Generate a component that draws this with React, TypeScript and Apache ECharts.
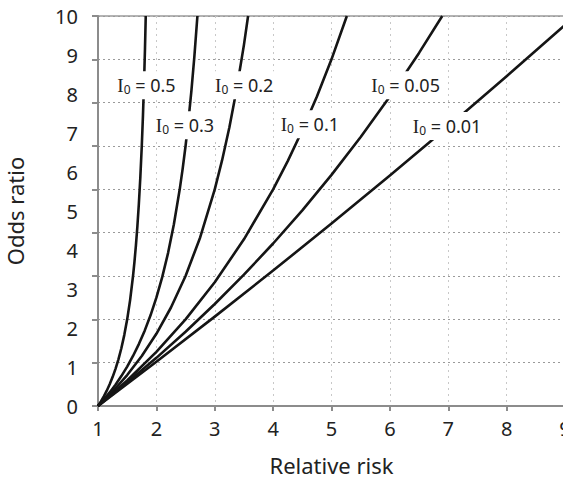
import React, { useEffect, useRef } from "react";
import * as echarts from "echarts";

// Relative risk (x) and odds ratio (y) points
const rr05 = [1, 1.05, 1.1, 1.15, 1.2, 1.25, 1.3, 1.35, 1.4, 1.45, 1.5, 1.55, 1.6, 1.625, 1.65, 1.675, 1.7, 1.725, 1.75, 1.77, 1.79, 1.805, 1.818];
const or05 = [1, 1.105, 1.222, 1.353, 1.5, 1.667, 1.857, 2.077, 2.333, 2.636, 3, 3.444, 4, 4.333, 4.714, 5.154, 5.667, 6.273, 7, 7.696, 8.524, 9.256, 10];
const rr03 = [1, 1.1, 1.2, 1.3, 1.4, 1.5, 1.6, 1.7, 1.8, 1.9, 2.0, 2.1, 2.2, 2.3, 2.4, 2.45, 2.5, 2.55, 2.6, 2.65, 2.703];
const or03 = [1, 1.149, 1.313, 1.492, 1.69, 1.909, 2.154, 2.429, 2.739, 3.093, 3.5, 3.973, 4.529, 5.194, 6.0, 6.472, 7.0, 7.596, 8.273, 9.049, 10];
const rr02 = [1, 1.25, 1.5, 1.75, 2, 2.25, 2.5, 2.75, 3, 3.125, 3.25, 3.375, 3.5, 3.571];
const or02 = [1, 1.333, 1.714, 2.154, 2.667, 3.273, 4, 4.889, 6, 6.667, 7.429, 8.308, 9.333, 10];
const rr01 = [1, 1.5, 2, 2.5, 3, 3.5, 4, 4.25, 4.5, 4.75, 5, 5.263];
const or01 = [1, 1.588, 2.25, 3, 3.857, 4.846, 6, 6.652, 7.364, 8.143, 9, 10];
const rr005 = [1, 1.5, 2, 2.5, 3, 3.5, 4, 4.5, 5, 5.5, 6, 6.5, 6.897];
const or005 = [1, 1.541, 2.111, 2.714, 3.353, 4.03, 4.75, 5.516, 6.333, 7.207, 8.143, 9.148, 10];
const rr001 = [1, 2, 3, 4, 5, 6, 7, 8, 9];
const or001 = [1, 2.02, 3.062, 4.125, 5.211, 6.319, 7.452, 8.609, 9.791];

const curveX = [rr05, rr03, rr02, rr01, rr005, rr001];
const curveY = [or05, or03, or02, or01, or005, or001];

// Curve labels (I0 values) and where they sit
const labelNames = ["0.5", "0.3", "0.2", "0.1", "0.05", "0.01"];
const labelX = [1.83, 2.49, 3.505, 4.63, 6.27, 6.98];
const labelY = [8.4, 7.48, 8.4, 7.5, 8.4, 7.46];

// Axis ranges
const xMin = 1;
const xMax = 9;
const yLabelMin = 0;
const yLabelMax = 10;
const yDataMin = 1;
const yDataMax = 10;

const FONT = "Noto Sans";
const AXIS_COLOR = "#8c8c8c";
const TEXT_COLOR = "#222";

export default function App() {
  const ref = useRef<HTMLDivElement>(null);

  useEffect(() => {
    if (!ref.current) return;
    const chart = echarts.init(ref.current, undefined, { renderer: "svg" });

    const lineSeries = curveX.map((xs, i) => ({
      type: "line",
      xAxisIndex: 0,
      yAxisIndex: 1,
      data: xs.map((x, j) => [x, curveY[i][j]]),
      showSymbol: false,
      symbol: "none",
      smooth: false,
      silent: true,
      lineStyle: { color: "#151515", width: 2.6, join: "round" },
      z: 2,
    }));

    const labelSeries = {
      type: "scatter",
      xAxisIndex: 0,
      yAxisIndex: 1,
      symbol: "rect",
      symbolSize: (_v: any, p: any) => [p.name.length * 9 + 40, 28],
      itemStyle: { color: "#ffffff", opacity: 1 },
      silent: true,
      z: 5,
      data: labelNames.map((n, i) => ({ value: [labelX[i], labelY[i]], name: n })),
      label: {
        show: true,
        position: "inside",
        formatter: (p: any) => `{i|I}{s|0}{t| = ${p.name}}`,
        rich: {
          i: { fontFamily: "Liberation Serif", fontSize: 19, color: TEXT_COLOR },
          s: { fontFamily: FONT, fontSize: 12, color: TEXT_COLOR, padding: [9, 0, 0, 0] },
          t: { fontFamily: FONT, fontSize: 18, color: TEXT_COLOR },
        },
      },
    };

    chart.setOption({
      animation: false,
      backgroundColor: "#ffffff",
      grid: {
        left: 98,
        width: 467,
        top: 16,
        bottom: 79,
        containLabel: false,
        outerBoundsMode: "none",
        show: true,
        borderColor: "#9a9a9a",
        borderWidth: 1.5,
        backgroundColor: "transparent",
      },
      xAxis: {
        type: "value",
        min: xMin,
        max: xMax,
        interval: 1,
        axisLine: { show: true, lineStyle: { color: AXIS_COLOR, width: 2 } },
        axisTick: { show: true, length: 5, lineStyle: { color: AXIS_COLOR, width: 2 } },
        axisLabel: { color: TEXT_COLOR, fontSize: 20, fontFamily: FONT, margin: 12 },
        splitLine: { show: true, lineStyle: { color: "#c8c8c8", type: [2, 4], width: 1 } },
        name: "Relative risk",
        nameLocation: "middle",
        nameGap: 48,
        nameTextStyle: { fontSize: 22, color: TEXT_COLOR, fontFamily: FONT },
      },
      yAxis: [
        {
          type: "value",
          min: yLabelMin,
          max: yLabelMax,
          interval: 1,
          position: "left",
          axisLine: { show: false },
          axisTick: { show: false },
          splitLine: { show: false },
          axisLabel: { color: TEXT_COLOR, fontSize: 20, fontFamily: FONT, margin: 20, padding: [5, 0, 0, 0] },
          name: "Odds ratio",
          nameLocation: "middle",
          nameGap: 72,
          nameTextStyle: { fontSize: 22, color: TEXT_COLOR, fontFamily: FONT },
        },
        {
          type: "value",
          min: yDataMin,
          max: yDataMax,
          interval: 1,
          position: "left",
          axisLine: { show: true, lineStyle: { color: AXIS_COLOR, width: 2 } },
          axisTick: { show: true, length: 6, lineStyle: { color: AXIS_COLOR, width: 2 } },
          axisLabel: { show: false },
          splitLine: { show: true, lineStyle: { color: "#9a9a9a", type: [2, 3], width: 1.2 } },
        },
      ],
      series: [...lineSeries, labelSeries],
    });

    return () => chart.dispose();
  }, []);

  return (
    <div
      ref={ref}
      style={{ position: "absolute", left: 0, top: 0, width: 563, height: 485 }}
    />
  );
}
